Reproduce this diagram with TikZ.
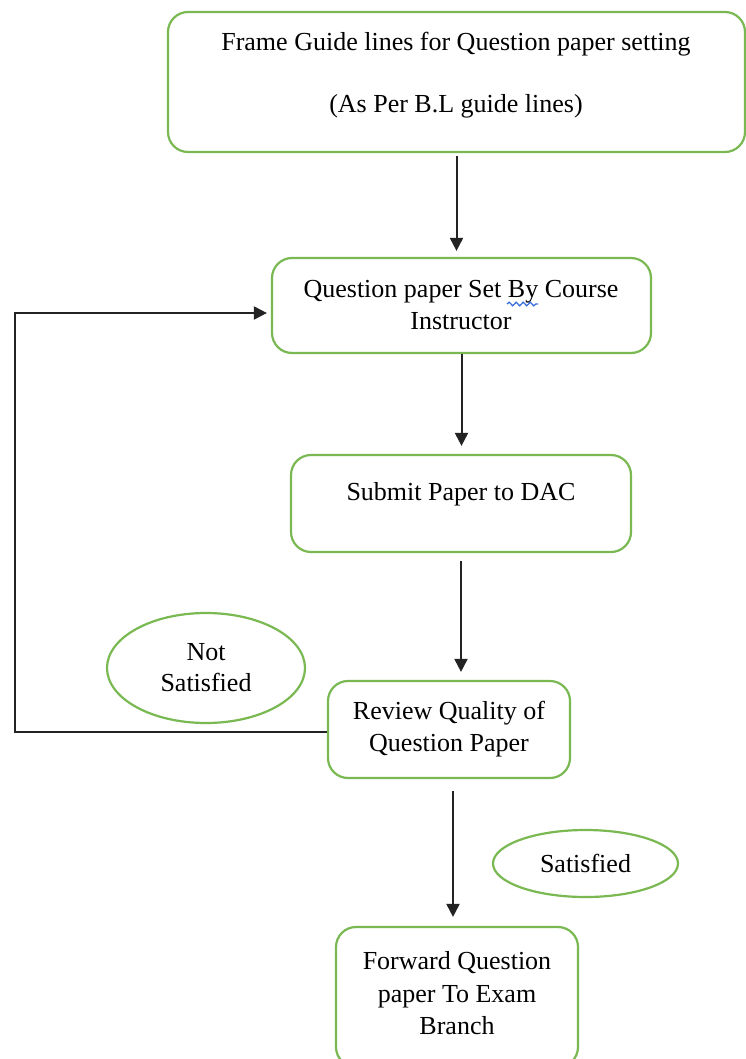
\documentclass[tikz,border=0pt]{standalone}
\usepackage{fontspec}
\setmainfont{Liberation Serif}
\usetikzlibrary{shapes.geometric,arrows.meta,decorations.pathmorphing}
\definecolor{boxgreen}{RGB}{122,184,82}
\definecolor{spellblue}{RGB}{58,110,220}
\definecolor{linegray}{RGB}{35,35,35}
\begin{document}
\begin{tikzpicture}[x=1pt,y=-1pt,
  box/.style={draw=boxgreen, line width=2.2pt, rounded corners=20pt, fill=white},
  oval/.style={draw=boxgreen, line width=2.2pt, ellipse, align=center, inner sep=0pt,
    font=\fontsize{26}{31}\selectfont, text=black},
  txt/.style={align=center, font=\fontsize{26}{32.5}\selectfont, text=black, inner sep=0pt},
  conn/.style={draw=linegray, line width=2pt, -{Triangle[width=13pt,length=13pt]}},
  spell/.style={draw=spellblue, line width=1.3pt, decorate,
    decoration={snake, segment length=7pt, amplitude=1.8pt}}]
\useasboundingbox (0,0) rectangle (746,1059);

% boxes
\node[box, minimum width=577pt, minimum height=140pt] (b1) at (456.5,82) {};
\node[box, minimum width=379pt, minimum height=95pt] (b2) at (461.5,305.5) {};
\node[box, minimum width=340pt, minimum height=97pt] (b3) at (461,503.5) {};
\node[box, minimum width=242pt, minimum height=97pt] (b4) at (449,729.5) {};
\node[box, minimum width=242pt, minimum height=140pt] (b5) at (457,997) {};

% texts
\node[txt] (t1) at (456,75) {Frame Guide lines for Question paper setting\\[30pt](As Per B.L guide lines)};
\node[txt] (t2) at (461,305) {Question paper Set By Course\\Instructor};
\node[txt] (t3) at (461,494) {Submit Paper to DAC};
\node[txt] (t4) at (449,729) {Review Quality of\\Question Paper};
\node[txt] (t5) at (457,993.5) {Forward Question\\paper To Exam\\Branch};

% spell-check wave under "By"
\coordinate (wA) at (507,304);
\coordinate (wB) at (538,304);
\draw[spell] (wA) -- (wB);

% ovals
\node[oval, minimum width=198pt, minimum height=110pt] (e1) at (206,668) {Not\\Satisfied};
\node[oval, minimum width=185pt, minimum height=67pt] (e2) at (585.5,863.5) {Satisfied};

% connectors
\draw[conn, shorten <=3pt, shorten >=6pt] (b1.south) -- (b1.south |- b2.north);
\draw[conn, shorten >=8pt] (b2.south) -- (b2.south |- b3.north);
\draw[conn, shorten <=8pt, shorten >=8pt] (b3.south) -- (b3.south |- b4.north);
\draw[conn, shorten <=12pt, shorten >=9pt] ([xshift=4pt]b4.south) -- ([xshift=4pt]b4.south |- b5.north);
\coordinate (loop) at (15,313);
\draw[conn, shorten >=4pt] ([yshift=-2.5pt]b4.west) -| (loop) -- ([yshift=-7.5pt]b2.west);
\end{tikzpicture}
\end{document}
